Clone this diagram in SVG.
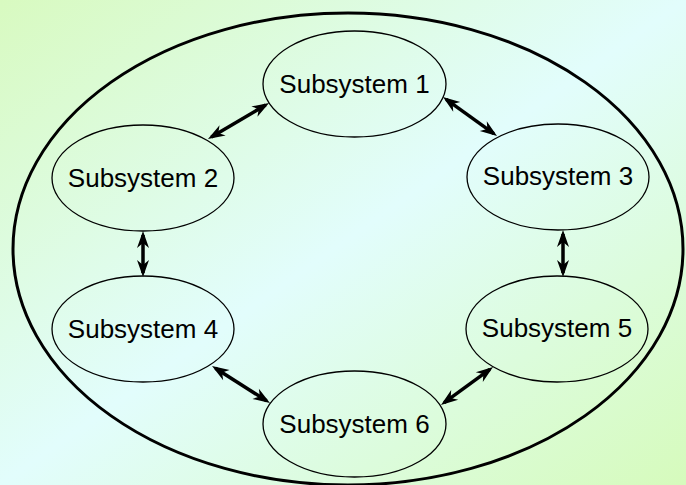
<svg xmlns="http://www.w3.org/2000/svg" width="686" height="485" viewBox="0 0 686 485">
  <defs>
    <linearGradient id="bg" x1="0" y1="0" x2="1" y2="1">
      <stop offset="0" stop-color="#d8fac0"/>
      <stop offset="0.5" stop-color="#e2fdfc"/>
      <stop offset="1" stop-color="#d6fbbc"/>
    </linearGradient>
    <marker id="ah" viewBox="-16 -8 22 16" refX="0" refY="0" markerWidth="22" markerHeight="16" markerUnits="userSpaceOnUse" orient="auto-start-reverse" overflow="visible">
      <path d="M4,0 L-13,-6 L-8,0 L-13,6 Z" fill="#000"/>
    </marker>
  </defs>
  <style>
    .node { fill: none; stroke: #000; stroke-width: 1.3; }
    .lbl { font-family: "Liberation Sans", Arial, sans-serif; font-size: 26px; fill: #000; text-anchor: middle; }
    .conn { stroke: #000; stroke-width: 3.5; fill: none; marker-start: url(#ah); marker-end: url(#ah); }
  </style>
  <rect x="0" y="0" width="686" height="485" fill="url(#bg)"/>
  <g id="system">
    <ellipse cx="348" cy="249" rx="335" ry="236" fill="none" stroke="#000" stroke-width="3"/>
  </g>
  <g id="s1">
    <ellipse class="node" cx="354.5" cy="84" rx="91.5" ry="53"/>
    <text class="lbl" x="354.5" y="92.5">Subsystem 1</text>
  </g>
  <g id="s2">
    <ellipse class="node" cx="143" cy="178" rx="91" ry="53"/>
    <text class="lbl" x="143" y="186.5">Subsystem 2</text>
  </g>
  <g id="s3">
    <ellipse class="node" cx="558" cy="177" rx="91" ry="53"/>
    <text class="lbl" x="558" y="185">Subsystem 3</text>
  </g>
  <g id="s4">
    <ellipse class="node" cx="143" cy="329" rx="91" ry="53"/>
    <text class="lbl" x="143" y="338">Subsystem 4</text>
  </g>
  <g id="s5">
    <ellipse class="node" cx="557" cy="329" rx="91" ry="53"/>
    <text class="lbl" x="557" y="337">Subsystem 5</text>
  </g>
  <g id="s6">
    <ellipse class="node" cx="354.5" cy="424" rx="91.5" ry="53"/>
    <text class="lbl" x="354.5" y="432.5">Subsystem 6</text>
  </g>
  <g id="connectors">
    <line class="conn" x1="265.6" y1="105" x2="211.4" y2="137"/>
    <line class="conn" x1="446.2" y1="99.3" x2="493.8" y2="133.7"/>
    <line class="conn" x1="143" y1="235" x2="143" y2="273"/>
    <line class="conn" x1="563" y1="234" x2="563" y2="273"/>
    <line class="conn" x1="215.4" y1="368.2" x2="266.6" y2="400.8"/>
    <line class="conn" x1="489.8" y1="369.4" x2="444.2" y2="402.6"/>
  </g>
</svg>
